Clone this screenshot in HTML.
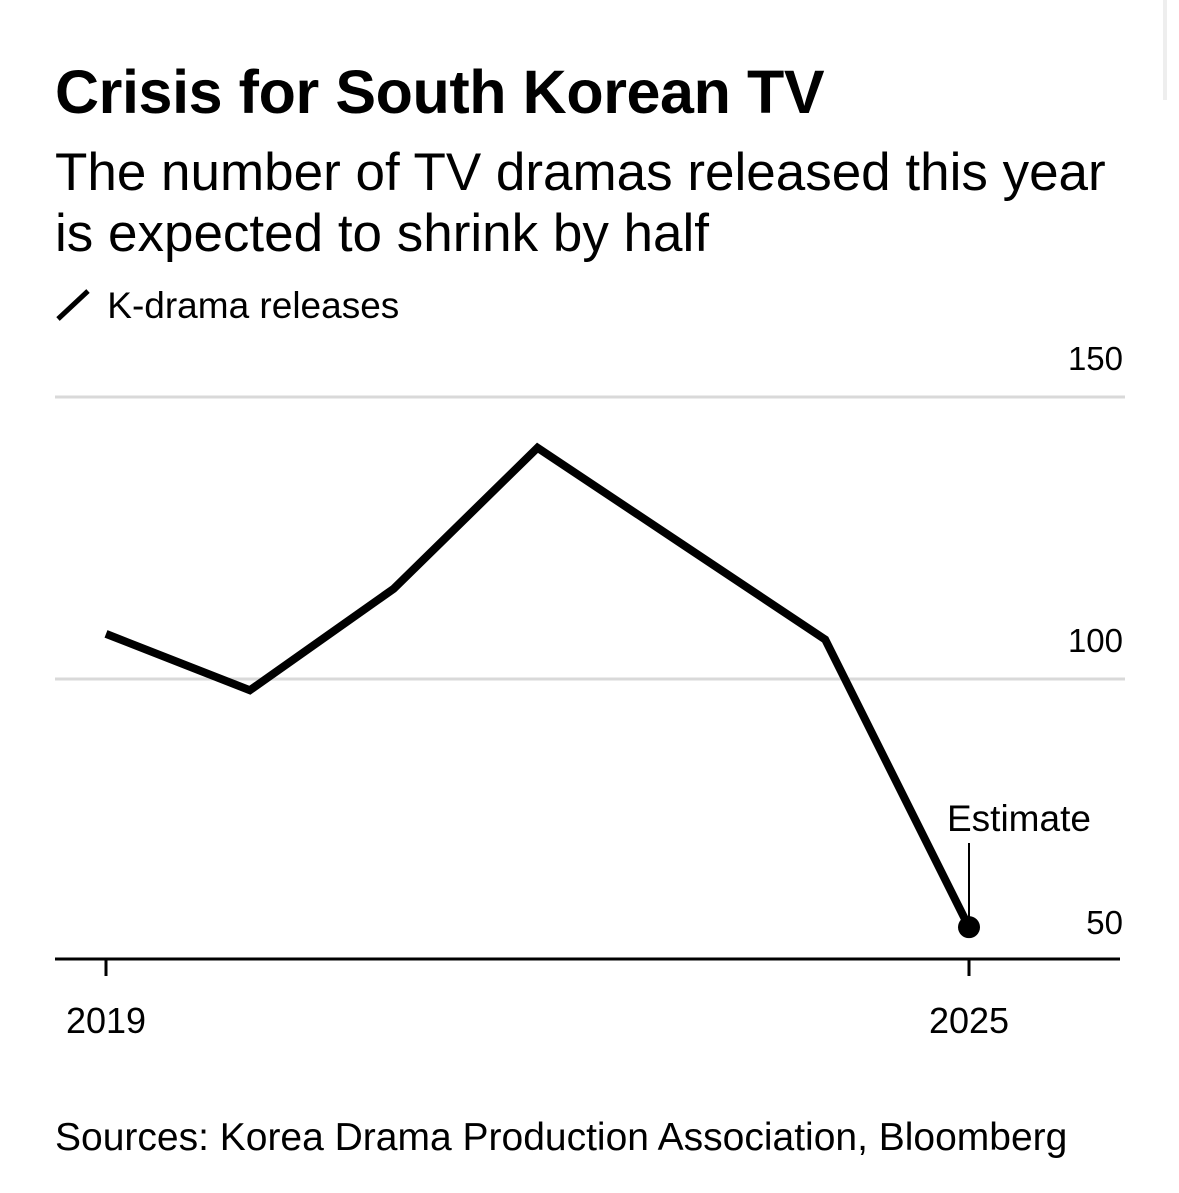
<!DOCTYPE html>
<html><head><meta charset="utf-8"><style>
body{margin:0;background:#fff;width:1179px;height:1193px;overflow:hidden;font-family:"Liberation Sans",Arial,sans-serif;color:#000}
.t{position:absolute;left:55px;white-space:nowrap}
</style></head><body>
<div class="t" style="top:56px;font-size:61px;line-height:72px;font-weight:bold;letter-spacing:-0.4px">Crisis for South Korean TV</div>
<div class="t" style="top:142px;font-size:53px;line-height:61px">The number of TV dramas released this year<br>is expected to shrink by half</div>
<div class="t" style="top:285px;font-size:37px;line-height:42px;left:55px">
<svg width="36" height="36" style="vertical-align:-5px"><line x1="3" y1="32" x2="33" y2="4" stroke="#000" stroke-width="5"/></svg>
<span style="margin-left:6px">K-drama releases</span></div>
<div class="t" style="top:1115px;font-size:39px;line-height:46px">Sources: Korea Drama Production Association, Bloomberg</div>
<div style="position:absolute;left:1163px;top:0;width:4px;height:100px;background:#eee"></div>
<svg id="c" width="1179" height="1193" style="position:absolute;left:0;top:0"></svg>
<script>
const years=[2019,2020,2021,2022,2023,2024,2025];
const releases=[108,98,116,141,124,107,56];
const yTicks=[150,100,50];
const xTickLabels=[2019,2025];
const NS="http://www.w3.org/2000/svg";
const svg=document.getElementById('c');
const x=v=>106+(v-2019)*(969-106)/6;
const y=v=>679-(v-100)*(282/50);
function mk(t,a){const e=document.createElementNS(NS,t);for(const k in a)e.setAttribute(k,a[k]);svg.appendChild(e);return e;}
yTicks.forEach(v=>{
 if(v>50){const g=mk('line',{x1:55,x2:1125,y1:y(v),y2:y(v),stroke:'#d9d9d9','stroke-width':3});
 
 }
 const t=mk('text',{x:1123,y:y(v)-27,'text-anchor':'end','font-size':33,'font-family':'Liberation Sans, sans-serif'});
 t.textContent=v;
 
 
});
const ax=mk('line',{x1:55,x2:1120,y1:959,y2:959,stroke:'#000','stroke-width':3});


xTickLabels.forEach(v=>{
 const tk=mk('line',{x1:x(v),x2:x(v),y1:959,y2:976,stroke:'#000','stroke-width':3});
 
 
 const t=mk('text',{x:x(v),y:1033,'text-anchor':'middle','font-size':36,'font-family':'Liberation Sans, sans-serif'});
 t.textContent=v;
 
 
});
const p=mk('polyline',{points:years.map((yr,i)=>x(yr)+','+y(releases[i])).join(' '),fill:'none',stroke:'#000','stroke-width':8,'stroke-linejoin':'miter'});


const li=years.length-1;
const d=mk('circle',{cx:x(years[li]),cy:y(releases[li]),r:11,fill:'#000'});


const al=mk('line',{x1:x(years[li]),x2:x(years[li]),y1:843,y2:y(releases[li])-10,stroke:'#000','stroke-width':2});


const at=mk('text',{x:x(years[li])-22,y:831,'font-size':37,'font-family':'Liberation Sans, sans-serif'});
at.textContent='Estimate';


</script>
</body></html>
